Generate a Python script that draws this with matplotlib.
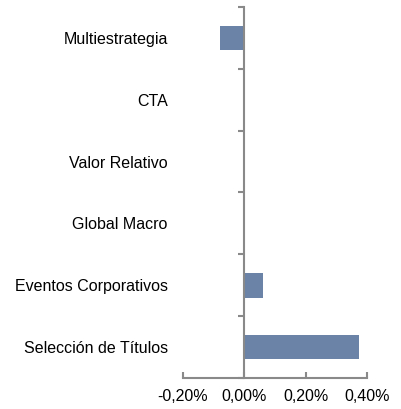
from matplotlib import pyplot as plt
from matplotlib import ticker

plt.rcParams['font.family'] = ['Liberation Sans', 'DejaVu Sans']

categorias = ["Selección de Títulos", "Eventos Corporativos", "Global Macro",
              "Valor Relativo", "CTA", "Multiestrategia"]
valores = [0.374, 0.062, 0.0, 0.0, 0.0, -0.079]  # en %
xticks = [-0.20, 0.00, 0.20, 0.40]

gris = "#898989"
azul = "#6A83A7"

fig = plt.figure(figsize=(4.01, 4.09), dpi=100)
ax = fig.add_axes([0.456, 0.076, 0.459, 0.907])

pos = list(range(len(categorias)))
ax.barh(pos, valores, height=0.4, color=azul)

ax.set_xlim(-0.2, 0.4)
ax.set_ylim(-0.5, len(categorias) - 0.5)

# eje vertical en cero, etiquetas a la izquierda
ax.spines['left'].set_position(('data', 0))
for s in ['top', 'right']:
    ax.spines[s].set_visible(False)
for s in ['left', 'bottom']:
    ax.spines[s].set_color(gris)
    ax.spines[s].set_linewidth(1.5)

ax.set_yticks(pos)
ax.set_yticklabels(categorias, fontsize=11.5)
ax.set_yticks([p - 0.5 for p in pos] + [len(categorias) - 0.5], minor=True)
ax.tick_params(axis='y', which='major', length=0, pad=55)
ax.tick_params(axis='y', which='minor', length=4, width=1.5, color=gris, direction='out')

ax.set_xticks(xticks)
ax.xaxis.set_major_formatter(ticker.FuncFormatter(lambda v, p: f"{v:.2f}%".replace('.', ',')))
ax.tick_params(axis='x', length=4, width=1.5, color=gris, direction='in', labelsize=11.5, pad=8)

fig.savefig("out.png", dpi=100)
